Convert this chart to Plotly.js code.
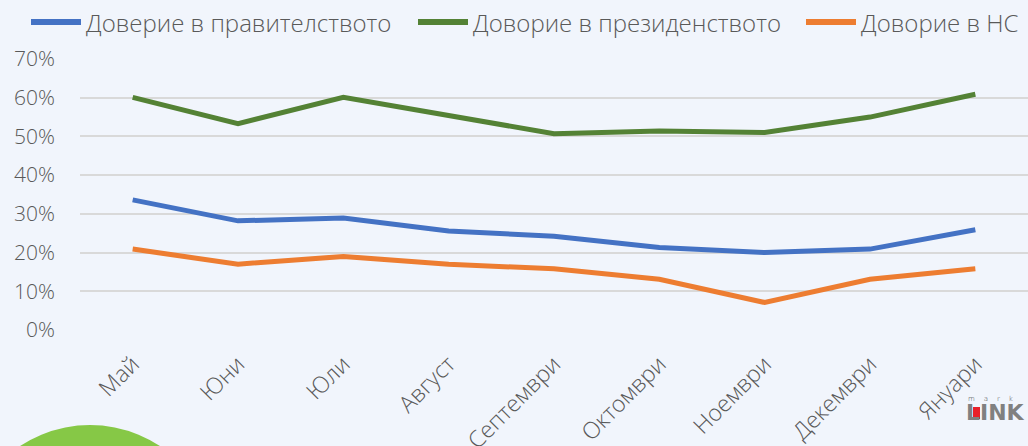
<!DOCTYPE html>
<html>
<head>
<meta charset="utf-8">
<script src="https://cdn.plot.ly/plotly-3.0.1.min.js"></script>
<style>
html,body{margin:0;padding:0;overflow:hidden;background:#F1F5FC;}
#chart{width:1028px;height:446px;}
</style>
</head>
<body>
<div id="chart"></div>
<script>
const months = ["Май","Юни","Юли","Август","Септември","Октомври","Ноември","Декември","Януари"];
const seriesNames = ["Доверие в правителството","Доворие в президенството","Доворие в НС"];
const govTrust = [0.336, 0.282, 0.289, 0.256, 0.242, 0.213, 0.200, 0.209, 0.259];
const presTrust = [0.601, 0.533, 0.601, 0.555, 0.507, 0.514, 0.510, 0.550, 0.609];
const parlTrust = [0.209, 0.170, 0.190, 0.170, 0.158, 0.131, 0.071, 0.131, 0.158];
const yTicks = [0, 0.1, 0.2, 0.3, 0.4, 0.5, 0.6, 0.7];
const yTickText = ["0%","10%","20%","30%","40%","50%","60%","70%"];
const colors = ["#4472C4","#548235","#ED7D31"];

// pixel -> paper helpers (plot area: x 80..1028, y 59..330)
const PX = p => (p - 80) / 948;
const PY = p => (330 - p) / 271;

const font = {family: "Open Sans, sans-serif", color: "#595959", weight: 300};
const data = [govTrust, presTrust, parlTrust].map((vals, i) => ({
  type: "scatter", mode: "lines", x: months, y: vals, name: seriesNames[i],
  line: {color: colors[i], width: 5}, showlegend: false
}));

// manual legend placed like the reference
const legendX = [28, 415, 803];
const shapes = [
  {type: "circle", xref: "paper", yref: "paper", layer: "below",
   x0: PX(-37), x1: PX(217), y0: PY(679), y1: PY(425),
   fillcolor: "#86C846", line: {width: 0}}
];
const annotations = [];
seriesNames.forEach((n, i) => {
  shapes.push({type: "line", xref: "paper", yref: "paper",
    x0: PX(legendX[i] + 3), x1: PX(legendX[i] + 53), y0: PY(22), y1: PY(22),
    line: {color: colors[i], width: 6}});
  annotations.push({xref: "paper", yref: "paper", x: PX(legendX[i] + 56), y: PY(22),
    xanchor: "left", yanchor: "middle", showarrow: false, text: n,
    font: Object.assign({}, font, {size: 24})});
});
// logo
shapes.push({type: "rect", xref: "paper", yref: "paper",
  x0: PX(973), x1: PX(980), y0: PY(419), y1: PY(407),
  fillcolor: "#E8202A", line: {width: 0}});
annotations.push({xref: "paper", yref: "paper", x: PX(964), y: PY(427), xanchor: "left", yanchor: "bottom",
  text: "<b>LINK</b>", showarrow: false, font: {family: "DejaVu Sans, sans-serif", size: 22, color: "#808080"}});
annotations.push({xref: "paper", yref: "paper", x: PX(966), y: PY(405), xanchor: "left", yanchor: "bottom",
  text: "m    a    r    k", showarrow: false, font: {family: "DejaVu Sans, sans-serif", size: 7, color: "#404040"}});

const layout = {
  width: 1028, height: 446,
  margin: {l: 80, r: 0, t: 59, b: 116},
  paper_bgcolor: "#F1F5FC", plot_bgcolor: "#F1F5FC",
  font: Object.assign({size: 20}, font),
  showlegend: false,
  xaxis: {
    type: "category", tickangle: -45, showgrid: false, zeroline: false,
    showline: false, ticks: "", tickfont: Object.assign({}, font, {size: 23}),
    range: [-0.5, 8.5], ticklabelstandoff: 15
  },
  yaxis: {
    range: [0, 0.7], tickvals: yTicks, ticktext: yTickText,
    showgrid: true, gridcolor: "#D9D9D9", gridwidth: 2, zeroline: false,
    showline: false, ticks: "", tickfont: Object.assign({}, font, {size: 21}),
    ticklabelstandoff: 24
  },
  shapes: shapes,
  annotations: annotations
};

Plotly.newPlot("chart", data, layout, {displayModeBar: false, staticPlot: true});
</script>
</body>
</html>
